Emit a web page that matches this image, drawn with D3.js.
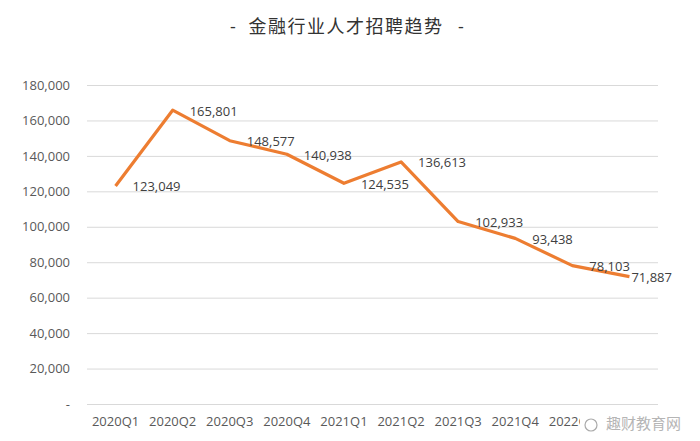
<!DOCTYPE html>
<html>
<head>
<meta charset="utf-8">
<script src="https://cdn.jsdelivr.net/npm/d3@7"></script>
<style>
  body { margin: 0; background: #fff; }
  text { font-family: "Open Sans", "Noto Sans CJK SC", sans-serif; }
</style>
</head>
<body>
<div id="chart"></div>
<script>
// data
var quarters = ["2020Q1", "2020Q2", "2020Q3", "2020Q4", "2021Q1", "2021Q2", "2021Q3", "2021Q4", "2022Q1", "2022Q2"];
var hires = [123049, 165801, 148577, 140938, 124535, 136613, 102933, 93438, 78103, 71887];
var yTicks = [0, 20000, 40000, 60000, 80000, 100000, 120000, 140000, 160000, 180000];

var width = 700, height = 441;
var margin = {top: 85, right: 42, bottom: 37, left: 87};

var svg = d3.select("#chart").append("svg")
    .attr("width", width)
    .attr("height", height);

var title = svg.append("g")
    .attr("font-family", "Noto Sans CJK SC")
    .attr("font-size", 18)
    .attr("fill", "#333")
    .attr("text-anchor", "middle");
title.append("text").attr("x", 346).attr("y", 33).attr("letter-spacing", 1.5).text("金融行业人才招聘趋势");
title.append("text").attr("x", 233).attr("y", 33).text("-");
title.append("text").attr("x", 461).attr("y", 33).text("-");

var x = d3.scaleBand()
    .domain(quarters)
    .range([margin.left, width - margin.right]);

var y = d3.scaleLinear()
    .domain([0, 180000])
    .range([height - margin.bottom, margin.top]);

var fmt = d3.format(",");

// grid + y labels
var yAxis = d3.axisLeft(y)
    .tickValues(yTicks)
    .tickSize(-(width - margin.left - margin.right))
    .tickPadding(17)
    .tickFormat(function (d) { return d === 0 ? "-" : fmt(d); });

var gy = svg.append("g")
    .attr("transform", "translate(" + margin.left + ",0)")
    .call(yAxis);
gy.select(".domain").remove();
gy.selectAll(".tick line").attr("stroke", "#d9d9d9").attr("stroke-width", 1);
gy.selectAll(".tick text")
    .attr("fill", "#595959")
    .attr("font-size", 13);

// x labels (last one sits under the watermark in the original)
var xAxis = d3.axisBottom(x).tickSize(0).tickPadding(13);
var gx = svg.append("g")
    .attr("transform", "translate(0," + (height - margin.bottom) + ")")
    .call(xAxis);
gx.select(".domain").remove();
gx.selectAll(".tick text")
    .attr("fill", "#595959")
    .attr("font-size", 13);
gx.selectAll(".tick").filter(function (d) { return d === "2022Q2"; }).remove();

var cx = function (d, i) { return x(quarters[i]) + x.bandwidth() / 2; };

var line = d3.line()
    .x(cx)
    .y(function (d) { return y(d); });

svg.append("path")
    .datum(hires)
    .attr("fill", "none")
    .attr("stroke", "#ed7d31")
    .attr("stroke-width", 3.2)
    .attr("stroke-linejoin", "round")
    .attr("d", line);

svg.selectAll(".lbl")
    .data(hires)
  .enter().append("text")
    .attr("class", "lbl")
    .attr("x", function (d, i) { return cx(d, i) + (i === hires.length - 1 ? 2 : 17); })
    .attr("y", function (d) { return y(d) + 1; })
    .attr("dy", "0.35em")
    .attr("fill", "#404040")
    .attr("font-size", 13)
    .text(function (d) { return fmt(d); });

// watermark in the corner
svg.append("rect")
    .attr("x", 580).attr("y", 411)
    .attr("width", 120).attr("height", 26)
    .attr("fill", "#fff");
svg.append("circle")
    .attr("cx", 591).attr("cy", 425).attr("r", 6)
    .attr("fill", "none").attr("stroke", "#aaa").attr("stroke-width", 1.2);
svg.append("text")
    .attr("x", 606)
    .attr("y", 429)
    .attr("font-family", "Noto Sans CJK SC")
    .attr("font-size", 15)
    .attr("fill", "#b5b5b5")
    .text("趣财教育网");
</script>
</body>
</html>
